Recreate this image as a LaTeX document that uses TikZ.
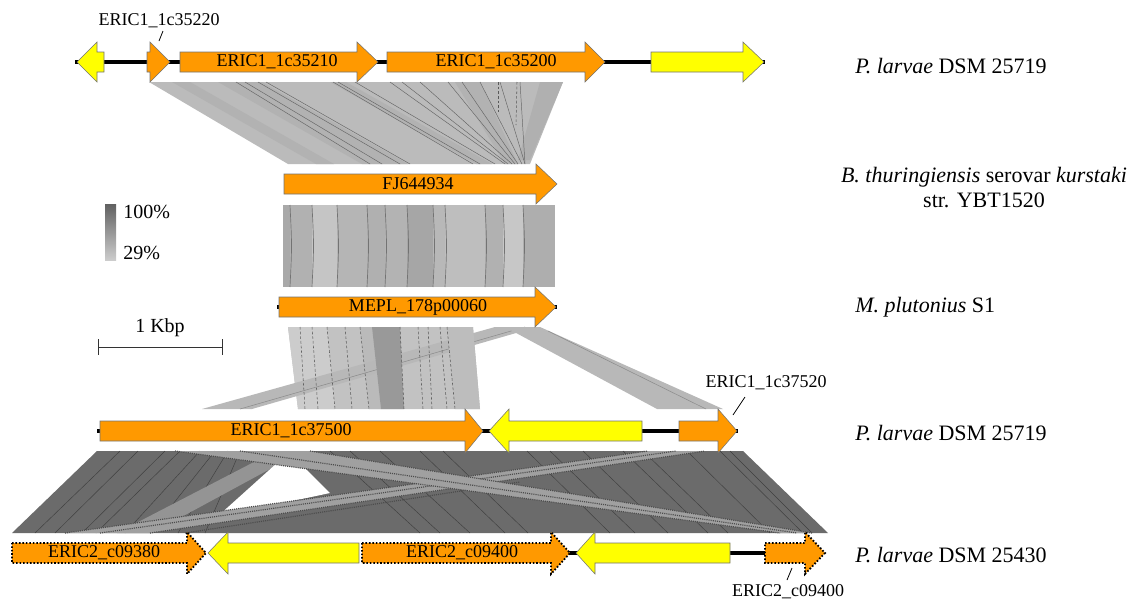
\documentclass[tikz,border=0pt]{standalone}
\usepackage{fontspec}
\setmainfont{Liberation Serif}
\definecolor{gorange}{HTML}{FF9900}
\definecolor{gyellow}{HTML}{FFFF00}
\definecolor{bandA}{HTML}{BBBBBB}
\definecolor{bandB}{HTML}{B2B2B2}
\definecolor{bandD}{HTML}{6B6B6B}
\definecolor{stripe}{HTML}{A0A0A0}
\tikzset{
  ogene/.style={fill=gorange, draw=black!55, line width=0.4pt},
  ygene/.style={fill=gyellow, draw=black!55, line width=0.4pt},
  dgene/.style={fill=gorange, draw=black, line width=1.4pt, dash pattern=on 1.2pt off 1.4pt},
  backbone/.style={line width=2.3pt, black},
  glabel/.style={font=\fontsize{13.5}{15}\selectfont, inner sep=0pt},
  slabel/.style={font=\fontsize{16.5}{19}\selectfont, inner sep=0pt, anchor=west},
  leglabel/.style={font=\fontsize{15}{17}\selectfont, inner sep=0pt},
  aline/.style={line width=0.35pt, black!60},
  dline/.style={line width=0.4pt, black!65, dash pattern=on 2pt off 1.5pt},
  sdot/.style={line width=0.9pt, black!70, dash pattern=on 0.8pt off 0.8pt},
  leader/.style={line width=0.6pt, black}
}
% #1 style, #2 body end, #3 head base, #4 tip, #5 head half-height, #6 centre y
\newcommand{\gene}[6]{\draw[#1] (#2,#6-10) -- (#3,#6-10) -- (#3,#6-#5) -- (#4,#6) -- (#3,#6+#5) -- (#3,#6+10) -- (#2,#6+10) -- cycle;}
\begin{document}
\begin{tikzpicture}[x=0.75pt,y=-0.75pt]
\useasboundingbox (0,0) rectangle (1136,600);

% ---------------- band 1 (row 1 -> FJ644934)
\fill[bandA] (149,82) -- (563,82) -- (530,164) -- (288,164) -- cycle;
\fill[bandB] (172,82) -- (190,82) -- (334,164) -- (316,164) -- cycle;
\fill[bandB] (218,82) -- (262,82) -- (408,164) -- (362,164) -- cycle;
\fill[bandB] (330,82) -- (346,82) -- (492,164) -- (476,164) -- cycle;
\fill[bandB] (455,82) -- (480,82) -- (518,164) -- (505,164) -- cycle;
\fill[black!31] (540,82) -- (563,82) -- (530,160) -- (518,160) -- cycle;
\foreach \a/\b in {236/370,245/382,258/400,266/410,333/473,338/480,355/495,390/505,402/508,420/512,448/515,462/518,480/522,500/525,520/525}
  \draw[aline] (\a,82) -- (\b,164);
\draw[dline] (498,82) -- (498,112);
\draw[dline] (517,82) -- (516,125);

% ---------------- band 2 (FJ644934 -> MEPL)
\foreach \a/\b/\g in {283/290/169,290/312/177,312/337/197,337/367/181,367/385/176,385/407/179,407/433/166,433/445/184,445/485/190,485/503/177,503/523/199,523/555/174}
  \fill[fill={rgb,255:red,\g;green,\g;blue,\g}] (\a,205) rectangle (\b,287);
\foreach \a in {290,312,337,367,385,407,433,445,485,503,523}
  \draw[line width=0.5pt, black!55] (\a,205) .. controls (\a+2,246) .. (\a,287);

% ---------------- band 3 (MEPL -> row 4)
\fill[black!24] (288,327) -- (473,327) -- (480,409) -- (298,409) -- cycle;
\fill[black!20] (288,327) -- (327,327) -- (335,409) -- (298,409) -- cycle;
\fill[black!27] (360,327) -- (372,327) -- (381,409) -- (369,409) -- cycle;
\fill[black!28] (202,409) -- (252,409) -- (537,327) -- (495,327) -- cycle;
\draw[line width=0.4pt, black!45] (240,409) -- (525,327);
\fill[black!28] (505,327) -- (540,327) -- (723,409) -- (657,409) -- cycle;
\draw[line width=0.4pt, black!45] (548,331) -- (706,409);
\fill[black!40] (372,327) -- (400,327) -- (404,409) -- (381,409) -- cycle;
\fill[black!26] (447,327) -- (473,327) -- (480,409) -- (455,409) -- cycle;
\foreach \a/\b in {300/305,312/318,327/335,345/352,360/369,400/404,418/423,428/432,440/447,447/455}
  \draw[dline] (\a,327) -- (\b,409);

% ---------------- band 4 (row 4 -> row 5)
\fill[bandD] (97,451) -- (743,451) -- (828,533) -- (12,533) -- cycle;
\foreach \a/\b in {120/35,138/55,165/82,180/96,200/125,215/150,228/178,240/205}
  \draw[aline, black!75] (\a,451) -- (\b,533);
\foreach \a/\b in {420/505,443/528,527/610,550/635,583/668,623/708,643/728,687/770,720/803,730/812,380/470,350/440,330/420}
  \draw[aline, black!75] (\a,451) -- (\b,533);
\fill[black!42] (117,533) -- (152,533) -- (283,462) -- (254,462) -- cycle;
\fill[white] (277,463) -- (300,463) -- (330,493) -- (217,517) -- cycle;
% ascending stripe
\fill[stripe] (65,533) -- (150,533) -- (705,451) -- (648,451) -- cycle;
\draw[sdot] (65,533) -- (648,451);
\draw[sdot] (150,533) -- (705,451);
\draw[sdot] (100,533) -- (676,451);
\draw[sdot] (185,533) -- (520,482);
% descending stripe
\fill[stripe] (175,451) -- (310,451) -- (812,533) -- (780,533) -- cycle;
\draw[sdot] (175,451) -- (780,533);
\draw[sdot] (310,451) -- (812,533);
\draw[sdot] (240,451) -- (797,533);

% ---------------- backbones
\draw[backbone] (75,62) -- (765,62);
\draw[backbone] (277,307) -- (557,307);
\draw[backbone] (97,431) -- (738,431);
\draw[backbone] (560,553) -- (765,553);

% ---------------- genes row 1
\gene{ygene}{104}{97}{77}{20}{62}
\gene{ogene}{147}{150}{170}{20}{62}
\gene{ogene}{180}{357}{378}{20}{62}
\gene{ogene}{387}{585}{605}{20}{62}
\gene{ygene}{651}{743}{764}{20}{62}
% row 2 and 3
\gene{ogene}{284}{536}{557}{20}{184}
\gene{ogene}{279}{535}{556}{20}{307}
% row 4
\gene{ogene}{100}{465}{483}{22}{431}
\gene{ygene}{642}{509}{489}{22}{431}
\gene{ogene}{679}{718}{737}{22}{431}
% row 5
\gene{dgene}{12}{187}{206}{21}{553}
\gene{ygene}{359}{228}{208}{21}{553}
\gene{dgene}{362}{551}{570}{21}{553}
\gene{ygene}{730}{595}{576}{21}{553}
\gene{dgene}{765}{805}{825}{21}{553}

% ---------------- gene labels
\node[glabel] (g35210) at (277,62) {ERIC1\_1c35210};
\node[glabel] (g35200) at (496,62) {ERIC1\_1c35200};
\node[glabel] (gfj) at (418,184) {FJ644934};
\node[glabel] (gmepl) at (418,307) {MEPL\_178p00060};
\node[glabel] (g37500) at (291,431) {ERIC1\_1c37500};
\node[glabel] (g09380) at (104,553) {ERIC2\_c09380};
\node[glabel] (g09400) at (462,553) {ERIC2\_c09400};

% ---------------- leader labels
\node[glabel] (l35220) at (159,21) {ERIC1\_1c35220};
\coordinate (p35220) at (159,41);
\draw[leader] (163,31) -- (p35220);
\node[glabel] (l37520) at (766,383) {ERIC1\_1c37520};
\coordinate (p37520) at (733,415);
\draw[leader] (745,397) -- (p37520);
\node[glabel] (l09400) at (788,592) {ERIC2\_c09400};
\coordinate (p09400) at (792,568);
\draw[leader] (787,580) -- (p09400);

% ---------------- species labels
\node[slabel] (s1) at (855,66) {\textit{P. larvae} DSM 25719};
\node[font=\fontsize{16.5}{18.75}\selectfont, inner sep=0pt, align=center] (s2) at (984,188) {\textit{B. thuringiensis} serovar \textit{kurstaki}\\str. YBT1520};
\node[slabel] (s3) at (855,307) {\textit{M. plutonius} S1};
\node[slabel] (s4) at (855,433) {\textit{P. larvae} DSM 25719};
\node[slabel] (s5) at (855,555) {\textit{P. larvae} DSM 25430};

% ---------------- legend
\shade[top color=black!62, bottom color=black!20] (105,204) rectangle (116,260);
\node[leglabel, anchor=west] (l100) at (123,212) {100\%};
\node[leglabel, anchor=west] (l29) at (123,253) {29\%};

% ---------------- scale bar
\coordinate (sb1) at (98,347);
\coordinate (sb2) at (222,347);
\draw[line width=0.6pt, black!80] (sb1) -- (sb2);
\draw[line width=0.6pt, black!80] (98,339) -- (98,355);
\draw[line width=0.6pt, black!80] (222,339) -- (222,355);
\node[leglabel] (sbl) at (160,328) {1 Kbp};
\end{tikzpicture}
\end{document}
